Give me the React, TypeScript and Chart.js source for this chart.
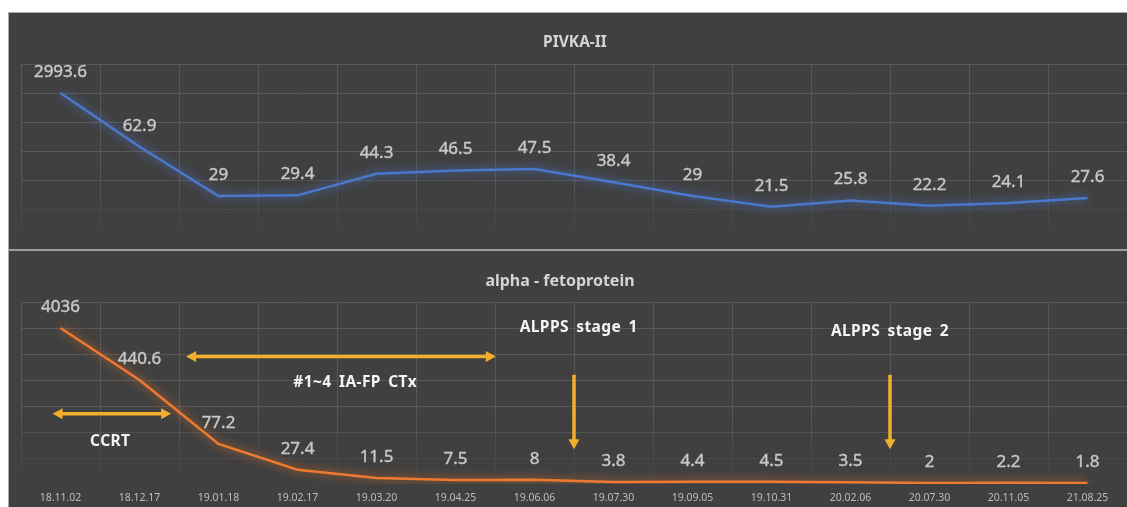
import React, { useEffect, useRef } from "react";
import { Chart, registerables } from "chart.js";

Chart.register(...registerables);

// ---------- data ----------
const dates = [
  "18.11.02", "18.12.17", "19.01.18", "19.02.17", "19.03.20", "19.04.25", "19.06.06",
  "19.07.30", "19.09.05", "19.10.31", "20.02.06", "20.07.30", "20.11.05", "21.08.25",
];
// value shown in the label
const pivkaValues = [2993.6, 62.9, 29, 29.4, 44.3, 46.5, 47.5, 38.4, 29, 21.5, 25.8, 22.2, 24.1, 27.6];
// height at which the point is drawn (the first value is drawn on a broken axis)
const pivkaPlotted = [100, 62.9, 29, 29.4, 44.3, 46.5, 47.5, 38.4, 29, 21.5, 25.8, 22.2, 24.1, 27.6];
const afpValues = [4036, 440.6, 77.2, 27.4, 11.5, 7.5, 8, 3.8, 4.4, 4.5, 3.5, 2, 2.2, 1.8];
const afpPlotted = [300, 200, 77.2, 27.4, 11.5, 7.5, 8, 3.8, 4.4, 4.5, 3.5, 2, 2.2, 1.8];
const pivkaAxis = { min: 0, max: 120, step: 20 };
const afpAxis = { min: 0, max: 350, step: 50 };

// annotations of the lower panel (x in category index, y in axis units)
const hArrows = [
  { from: -0.1, to: 1.4, y: 135 },
  { from: 1.59, to: 5.51, y: 245 },
];
const vArrows = [
  { x: 6.5, from: 210, to: 67 },
  { x: 10.5, from: 210, to: 67 },
];
const notes = [
  { text: "CCRT", x: 0.63, y: 82 },
  { text: "#1~4 IA-FP CTx", x: 3.73, y: 195 },
  { text: "ALPPS stage 1", x: 6.56, y: 300 },
  { text: "ALPPS stage 2", x: 10.5, y: 293 },
];

const BG = "#404040";
const GRID = "#585858";
const FONT = "'Noto Sans', 'DejaVu Sans', sans-serif";
const ARROW = "#F2AE2C";

function titlePlugin(text: string, size: number, shift: number) {
  return {
    id: "panelTitle",
    afterDraw(chart: any) {
      const { ctx, chartArea } = chart;
      ctx.save();
      ctx.font = `bold ${size}px ${FONT}`;
      ctx.fillStyle = "#d4d4d4";
      ctx.textAlign = "center";
      ctx.textBaseline = "middle";
      ctx.fillText(text, (chartArea.left + chartArea.right) / 2 + shift, chartArea.top - 21);
      ctx.restore();
    },
  };
}

function glowPlugin(color: string) {
  return {
    id: "glow",
    beforeDatasetDraw(chart: any) {
      const ctx = chart.ctx;
      ctx.save();
      ctx.shadowColor = color;
      ctx.shadowBlur = 10;
    },
    afterDatasetDraw(chart: any) {
      chart.ctx.restore();
    },
  };
}

const fadePlugin = {
  id: "fade",
  beforeDatasetsDraw(chart: any) {
    const { ctx, chartArea } = chart;
    const h = chartArea.bottom - chartArea.top;
    const y0 = chartArea.top + h * 0.62;
    const y1 = chartArea.bottom + 2;
    const g = ctx.createLinearGradient(0, y0, 0, y1);
    g.addColorStop(0, "rgba(64,64,64,0)");
    g.addColorStop(1, "rgba(64,64,64,1)");
    ctx.save();
    ctx.fillStyle = g;
    ctx.fillRect(chartArea.left - 2, y0, chartArea.right - chartArea.left + 4, y1 - y0);
    ctx.restore();
  },
};

function labelPlugin(texts: number[]) {
  return {
    id: "valueLabels",
    afterDatasetsDraw(chart: any) {
      const ctx = chart.ctx;
      const meta = chart.getDatasetMeta(0);
      ctx.save();
      ctx.font = `17px ${FONT}`;
      ctx.fillStyle = "#c8c8c8";
      ctx.strokeStyle = "#c8c8c8";
      ctx.lineWidth = 0.4;
      ctx.textAlign = "center";
      ctx.textBaseline = "middle";
      meta.data.forEach((pt: any, i: number) => {
        ctx.fillText(String(texts[i]), pt.x, pt.y - 21);
        ctx.strokeText(String(texts[i]), pt.x, pt.y - 21);
      });
      ctx.restore();
    },
  };
}

const annotationPlugin = {
  id: "annotations",
  afterDatasetsDraw(chart: any) {
    const { ctx, scales } = chart;
    const xs = scales.x;
    const ys = scales.y;
    const head = 10;
    const half = 5.5;
    ctx.save();
    ctx.strokeStyle = ARROW;
    ctx.fillStyle = ARROW;
    ctx.lineWidth = 3.5;
    hArrows.forEach((a) => {
      const x1 = xs.getPixelForValue(a.from);
      const x2 = xs.getPixelForValue(a.to);
      const y = ys.getPixelForValue(a.y);
      ctx.beginPath();
      ctx.moveTo(x1 + head - 1, y);
      ctx.lineTo(x2 - head + 1, y);
      ctx.stroke();
      ctx.beginPath();
      ctx.moveTo(x1, y);
      ctx.lineTo(x1 + head, y - half);
      ctx.lineTo(x1 + head, y + half);
      ctx.closePath();
      ctx.fill();
      ctx.beginPath();
      ctx.moveTo(x2, y);
      ctx.lineTo(x2 - head, y - half);
      ctx.lineTo(x2 - head, y + half);
      ctx.closePath();
      ctx.fill();
    });
    vArrows.forEach((a) => {
      const x = xs.getPixelForValue(a.x);
      const y1 = ys.getPixelForValue(a.from);
      const y2 = ys.getPixelForValue(a.to);
      ctx.beginPath();
      ctx.moveTo(x, y1);
      ctx.lineTo(x, y2 - head + 1);
      ctx.stroke();
      ctx.beginPath();
      ctx.moveTo(x, y2);
      ctx.lineTo(x - half, y2 - head);
      ctx.lineTo(x + half, y2 - head);
      ctx.closePath();
      ctx.fill();
    });
    ctx.font = `bold 15.5px ${FONT}`;
    (ctx as any).letterSpacing = "0.4px";
    (ctx as any).wordSpacing = "3px";
    ctx.fillStyle = "#f4f4f4";
    ctx.textAlign = "center";
    ctx.textBaseline = "middle";
    notes.forEach((n) => {
      ctx.fillText(n.text, xs.getPixelForValue(n.x), ys.getPixelForValue(n.y));
    });
    ctx.restore();
  },
};

function makeChart(
  canvas: HTMLCanvasElement,
  plotted: number[],
  shown: number[],
  color: string,
  glow: string,
  axis: { min: number; max: number; step: number },
  showX: boolean,
  bottomPad: number,
  extra: any[]
) {
  return new Chart(canvas, {
    type: "line",
    data: {
      labels: dates,
      datasets: [
        {
          data: plotted,
          borderColor: color,
          borderWidth: 2.5,
          pointRadius: 0,
          tension: 0,
          fill: false,
        },
      ],
    },
    options: {
      animation: false,
      responsive: true,
      maintainAspectRatio: false,
      layout: { padding: { left: 12, right: 0, top: 51, bottom: bottomPad } },
      plugins: {
        legend: { display: false },
        tooltip: { enabled: false },
        title: { display: false },
      },
      scales: {
        x: {
          type: "category",
          offset: true,
          grid: { offset: true, color: GRID, drawTicks: false, lineWidth: 1 },
          border: { display: false },
          ticks: {
            display: showX,
            color: "#bdbdbd",
            font: { family: FONT, size: 10.5 },
            padding: 8,
            maxRotation: 0,
            autoSkip: false,
          },
        },
        y: {
          min: axis.min,
          max: axis.max,
          grid: { color: GRID, drawTicks: false, lineWidth: 1 },
          border: { display: false },
          ticks: { display: false, stepSize: axis.step },
        },
      },
    },
    plugins: [fadePlugin, glowPlugin(glow), labelPlugin(shown), ...extra],
  });
}

export default function App() {
  const topRef = useRef<HTMLCanvasElement>(null);
  const botRef = useRef<HTMLCanvasElement>(null);

  useEffect(() => {
    const c1 = makeChart(
      topRef.current!,
      pivkaPlotted,
      pivkaValues,
      "#4A78CC",
      "rgba(80,130,230,0.9)",
      pivkaAxis,
      false,
      11,
      [titlePlugin("PIVKA-II", 15.5, 1)]
    );
    const c2 = makeChart(
      botRef.current!,
      afpPlotted,
      afpValues,
      "#EE7A32",
      "rgba(240,120,40,0.9)",
      afpAxis,
      true,
      2.4,
      [annotationPlugin, titlePlugin("alpha - fetoprotein", 16, -14)]
    );
    return () => {
      c1.destroy();
      c2.destroy();
    };
  }, []);

  return (
    <div
      style={{
        position: "fixed",
        left: 8,
        top: 12,
        width: 1119,
        height: 495,
        background: BG,
        borderTop: "1px solid #a9a9a9",
        borderLeft: "1px solid #a9a9a9",
        boxSizing: "border-box",
        overflow: "hidden",
      }}
    >
      <div style={{ position: "relative", width: 1118, height: 236 }}>
        <canvas ref={topRef} />
      </div>
      <div style={{ width: 1118, height: 2, background: "#9c9c9c" }} />
      <div style={{ position: "relative", width: 1118, height: 264 }}>
        <canvas ref={botRef} />
      </div>
    </div>
  );
}
